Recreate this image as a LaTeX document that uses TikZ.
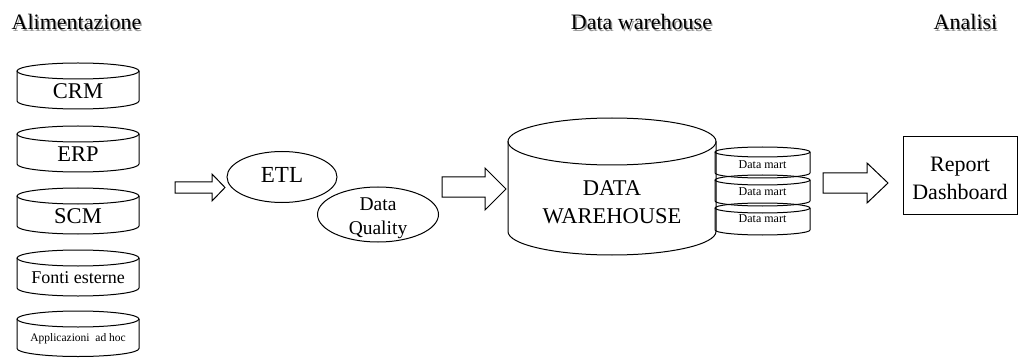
\documentclass[tikz,border=0pt]{standalone}
\usepackage{fontspec}
\setmainfont{Liberation Serif}
\tikzset{
  cyl/.style={draw=black, line width=1pt},
  blk/.style={draw=black, line width=1pt, line join=miter},
  ttl/.style={font=\fontsize{22}{26}\selectfont, anchor=base, inner sep=0pt},
  shad/.style={ttl, text=black!40},
  lbl/.style={inner sep=0pt, align=center},
}
\newcommand\dbcyl[5]{%
  \draw[cyl] (#1,{-(#3)-(#5)}) ellipse [x radius=#2pt, y radius=#5pt];
  \draw[cyl] ({#1-#2},{-(#3)-(#5)}) -- ({#1-#2},{-(#4)+(#5)})
     arc[start angle=180,end angle=360,x radius=#2pt,y radius=#5pt]
     -- ({#1+#2},{-(#3)-(#5)});
}
\begin{document}
\begin{tikzpicture}[x=1pt,y=1pt]
\useasboundingbox (0,0) rectangle (1019,-358);
% titles with soft shadow
\node[shad] at (77.8,-31.6) {Alimentazione};
\node[ttl] (t1) at (76.5,-30) {Alimentazione};
\node[shad] at (642.8,-31.6) {Data warehouse};
\node[ttl] (t2) at (641.5,-30) {Data warehouse};
\node[shad] at (966.8,-31.6) {Analisi};
\node[ttl] (t3) at (965.5,-30) {Analisi};
% source cylinders
\dbcyl{78}{61}{63}{109}{8}
\node[lbl, font=\fontsize{22.5}{26}\selectfont] (crm) at (78,-91) {CRM};
\dbcyl{78}{61}{126}{172}{8}
\node[lbl, font=\fontsize{22.5}{26}\selectfont] (erp) at (78,-154) {ERP};
\dbcyl{78}{61}{188}{234}{8}
\node[lbl, font=\fontsize{22.5}{26}\selectfont] (scm) at (78,-216) {SCM};
\dbcyl{78}{61}{250}{296}{8}
\node[lbl, font=\fontsize{18}{22}\selectfont] (fonti) at (78,-278) {Fonti esterne};
\dbcyl{78}{61}{311}{356.5}{8}
\node[lbl, font=\fontsize{11.5}{14}\selectfont] (app) at (78,-339) {Applicazioni\ \ ad hoc};
% arrow 1
\draw[blk] (175,-182) -- (212,-182) -- (212,-174) -- (225,-187.5) -- (212,-201) -- (212,-193) -- (175,-193) -- cycle;
% ETL / Data Quality
\draw[cyl] (282,-177) ellipse [x radius=55pt, y radius=25.5pt];
\node[lbl, font=\fontsize{23}{26}\selectfont] (etl) at (282,-175) {ETL};
\draw[cyl] (378,-214.5) ellipse [x radius=60.5pt, y radius=27.5pt];
\node[lbl, font=\fontsize{19.5}{24}\selectfont] (dq) at (378,-218) {Data\\Quality};
% arrow 2
\draw[blk] (442,-177) -- (485,-177) -- (485,-168) -- (506,-189) -- (485,-210) -- (485,-197) -- (442,-197) -- cycle;
% data warehouse
\dbcyl{612}{104}{118}{255}{23.5}
\node[lbl, font=\fontsize{22.5}{28}\selectfont] (dw) at (612,-202) {DATA\\WAREHOUSE};
% data marts
\dbcyl{762.5}{47.5}{147}{178}{5}
\node[lbl, font=\fontsize{12}{14}\selectfont] (dm1) at (762.5,-165) {Data mart};
\dbcyl{762.5}{47.5}{175}{206}{5}
\node[lbl, font=\fontsize{12}{14}\selectfont] (dm2) at (762.5,-192) {Data mart};
\dbcyl{762.5}{47.5}{203}{235}{5}
\node[lbl, font=\fontsize{12}{14}\selectfont] (dm3) at (762.5,-219) {Data mart};
% arrow 3
\draw[blk] (823,-173) -- (867,-173) -- (867,-163) -- (888,-183) -- (867,-203) -- (867,-193) -- (823,-193) -- cycle;
% report box
\draw[cyl] (903,-137) rectangle (1017.5,-214);
\node[lbl, font=\fontsize{22}{28}\selectfont] (rep) at (960,-178) {Report\\Dashboard};
\end{tikzpicture}
\end{document}
